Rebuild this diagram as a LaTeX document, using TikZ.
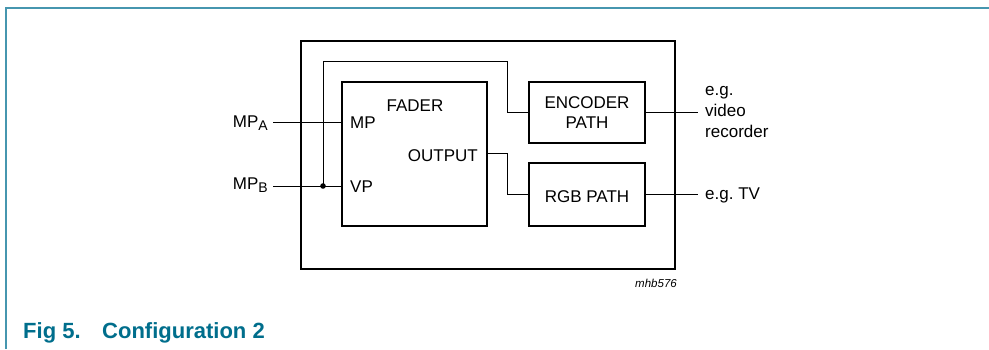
\documentclass[tikz,border=0pt]{standalone}
\usepackage{fontspec}
\setmainfont{Liberation Sans}
\frenchspacing
\definecolor{captteal}{RGB}{0,110,140}
\definecolor{frameteal}{RGB}{70,150,175}
\begin{document}
\begin{tikzpicture}[x=1pt,y=-1pt,
  blk/.style={draw,line width=1.5pt,inner sep=0,outer sep=0,anchor=north west},
  wire/.style={line width=1pt},
  lbl/.style={font=\fontsize{17}{20}\selectfont,inner sep=0}]
\useasboundingbox (0,0) rectangle (989,349);
% page frame
\draw[frameteal,line width=1.2pt] (6,349) -- (6,8) -- (989,8);
% boxes
\node[blk,line width=2pt,minimum width=374pt,minimum height=228pt] (outer) at (301,41) {};
\node[blk,minimum width=145pt,minimum height=144pt] (fader) at (342,82) {};
\node[blk,minimum width=116pt,minimum height=61pt] (enc) at (529,82) {};
\node[blk,minimum width=116pt,minimum height=63pt] (rgb) at (529,163) {};
% texts in boxes
\node[lbl,anchor=base] (fadert) at (415,111) {FADER};
\node[lbl,anchor=base west] (mp) at (350,128) {MP};
\node[lbl,anchor=base west] (vp) at (350,192) {VP};
\node[lbl,anchor=base east] (outt) at (478,161) {OUTPUT};
\node[lbl,anchor=base] (enc1) at (587,108) {ENCODER};
\node[lbl,anchor=base] (enc2) at (587,128) {PATH};
\node[lbl,anchor=base] (rgbt) at (587,202) {RGB PATH};
% outside labels
\node[lbl,anchor=base east] (mpa) at (268,127) {MP\raisebox{-3pt}{\fontsize{14}{14}\selectfont A}};
\node[lbl,anchor=base east] (mpb) at (268,189) {MP\raisebox{-3pt}{\fontsize{14}{14}\selectfont B}};
\node[lbl,anchor=base west] (eg1) at (705,95) {e.g.};
\node[lbl,anchor=base west] (eg2) at (705,116) {video};
\node[lbl,anchor=base west] (eg3) at (705,137) {recorder};
\node[lbl,anchor=base west] (egtv) at (705,199) {e.g. TV};
\node[font=\itshape\fontsize{11.5}{13}\selectfont,inner sep=0,anchor=base east] (code) at (677,287) {mhb576};
\node[font=\bfseries\fontsize{22}{26}\selectfont,text=captteal,inner sep=0,anchor=base west] (fig) at (23,338) {Fig 5.};
\node[font=\bfseries\fontsize{22}{26}\selectfont,text=captteal,inner sep=0,anchor=base west] (cap) at (102,338) {Configuration 2};
% wires
\coordinate (ja) at (273,122);
\coordinate (jb) at (273,186);
\coordinate (dot) at (323,186);
\coordinate (topw) at (323,61);
\coordinate (topr) at (507,61);
\coordinate (outp) at (487,153);
\coordinate (outm) at (507,153);
\coordinate (encout) at (698,112.5);
\coordinate (rgbout) at (698,194.5);
\draw[wire] (ja) -- (fader.west |- ja);
\draw[wire] (jb) -- (fader.west |- jb);
\fill (dot) circle (2.8pt);
\draw[wire] (dot) -- (topw) -- (topr) |- (enc.west);
\draw[wire] (outp) -- (outm) |- (rgb.west);
\draw[wire] (enc.east) -- (enc.east -| encout);
\draw[wire] (rgb.east) -- (rgb.east -| rgbout);
\end{tikzpicture}
\end{document}
